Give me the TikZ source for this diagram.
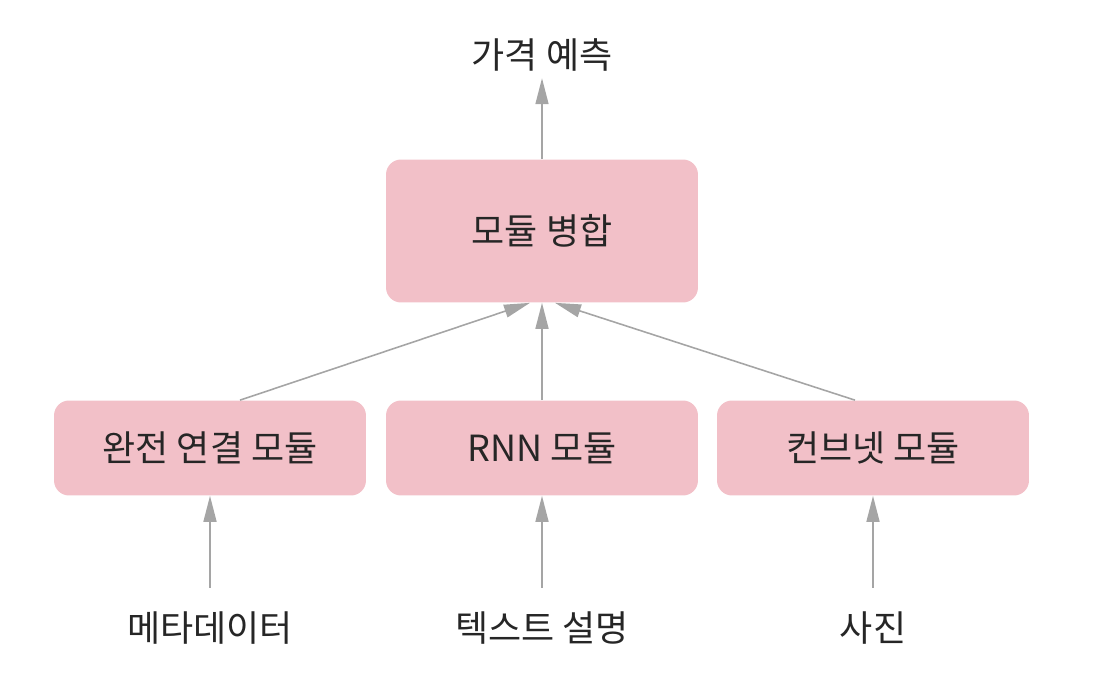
\documentclass[tikz,border=0pt]{standalone}
\usepackage{fontspec}
\setmainfont{Noto Sans CJK KR}
\usetikzlibrary{arrows.meta}
\begin{document}
\begin{tikzpicture}[x=0.02cm,y=-0.02cm,
    modbox/.style={draw=none,fill=boxpink,rounded corners=0.3cm,minimum width=6.24cm,
        minimum height=1.9cm,font=\fontsize{20.5}{24}\selectfont,text=black!85},
    lbl/.style={font=\fontsize{20.5}{24}\selectfont,text=black!85,inner sep=2pt},
    flow/.style={draw=arrowgray,line width=0.9pt,-{Triangle[length=0.52cm,width=0.26cm]}}]
    \definecolor{boxpink}{RGB}{242,192,200}
    \definecolor{arrowgray}{RGB}{165,165,165}
    \useasboundingbox (0,0) rectangle (1099,699);
    \node[modbox,minimum height=2.86cm] (merge) at (542,231) {모듈 병합};
    \node[lbl] (price) at (542,55) {가격 예측};
    \draw[flow] (merge.north) -- ([yshift=-0.06cm]price.south);
    \foreach \name/\x/\txt/\inp/\intxt in {dense/210/완전 연결 모듈/meta/메타데이터,
                                          rnn/542/RNN 모듈/desc/텍스트 설명,
                                          conv/873/컨브넷 모듈/photo/사진} {
        \node[modbox] (\name) at (\x,448) {\txt};
        \node[lbl] (\inp) at (\x,628) {\intxt};
        \draw[flow,shorten <=0.4cm] (\inp.north) -- (\name.south);
    }
    \draw[flow] ([xshift=0.6cm]dense.north) -- ([xshift=-0.24cm]merge.south);
    \draw[flow] (rnn.north) -- (merge.south);
    \draw[flow] ([xshift=-0.36cm]conv.north) -- ([xshift=0.26cm]merge.south);
\end{tikzpicture}
\end{document}
